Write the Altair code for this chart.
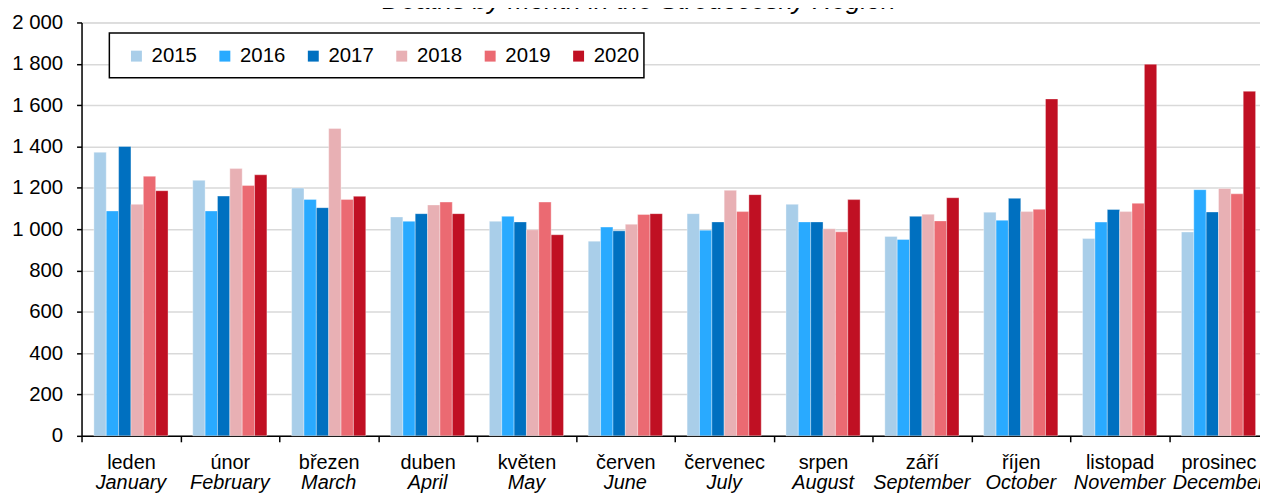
import altair as alt
import pandas as pd

months_cz = ["leden", "únor", "březen", "duben", "květen", "červen",
             "červenec", "srpen", "září", "říjen", "listopad", "prosinec"]
months_en = ["January", "February", "March", "April", "May", "June",
             "July", "August", "September", "October", "November", "December"]
years = ["2015", "2016", "2017", "2018", "2019", "2020"]
colors = ["#A9CEE9", "#29AAFF", "#0070C0", "#E8B0B4", "#EB6A72", "#C01023"]

v2015 = [1372, 1236, 1199, 1059, 1038, 942, 1075, 1120, 965, 1082, 955, 986]
v2016 = [1088, 1088, 1144, 1038, 1062, 1010, 995, 1035, 950, 1043, 1034, 1191]
v2017 = [1400, 1160, 1104, 1075, 1035, 992, 1035, 1035, 1062, 1149, 1095, 1083]
v2018 = [1120, 1293, 1487, 1117, 997, 1024, 1188, 1002, 1072, 1085, 1085, 1197]
v2019 = [1256, 1211, 1144, 1131, 1131, 1071, 1085, 987, 1040, 1096, 1125, 1171]
v2020 = [1186, 1263, 1159, 1075, 973, 1075, 1167, 1143, 1152, 1630, 1798, 1667]

title_text = "Deaths by month in the Středočeský Region"

rows = []
for yr, vals in zip(years, [v2015, v2016, v2017, v2018, v2019, v2020]):
    for m, e, v in zip(months_cz, months_en, vals):
        rows.append({"month": m, "en": e, "year": yr, "deaths": v})
df = pd.DataFrame(rows)
labels_df = pd.DataFrame({"month": months_cz, "en": months_en})
one = pd.DataFrame({"t": [title_text]})

W, H = 1194, 416
FONT = "Liberation Sans"

xenc = alt.X(
    "month:N", sort=months_cz,
    scale=alt.Scale(paddingInner=0, paddingOuter=0),
    axis=alt.Axis(
        title=None, labelAngle=0, tickBand="extent", grid=False,
        domainColor="black", domainWidth=1.5, tickColor="black", tickWidth=1.5,
        tickSize=6, labelFont=FONT, labelFontSize=20, labelColor="black",
        labelBaseline="alphabetic", labelPadding=27, labelLimit=200,
    ),
)

bars = alt.Chart(df).mark_bar(stroke="white", strokeWidth=1, strokeOpacity=0.35).encode(
    x=xenc,
    xOffset=alt.XOffset("year:N", sort=years,
                        scale=alt.Scale(paddingInner=0, paddingOuter=1)),
    y=alt.Y(
        "deaths:Q",
        scale=alt.Scale(domain=[0, 2000], nice=False),
        axis=alt.Axis(
            title=None, values=list(range(0, 2001, 200)),
            labelExpr="replace(format(datum.value, ','), ',', ' ')",
            grid=True, gridColor="#D9D9D9", gridWidth=1.5,
            domainColor="black", domainWidth=1.5, tickColor="black",
            tickWidth=1.5, tickSize=5, labelPadding=14,
            labelFont=FONT, labelFontSize=20.5, labelColor="black",
        ),
    ),
    color=alt.Color(
        "year:N", sort=years,
        scale=alt.Scale(domain=years, range=colors),
        legend=alt.Legend(
            orient="none", legendX=45, legendY=23.5, direction="horizontal",
            title=None, symbolType="square", symbolSize=121,
            symbolStrokeWidth=0, labelFont=FONT, labelFontSize=20.5,
            labelColor="black", labelOffset=5, columnPadding=17, padding=0,
        ),
    ),
)

frame = alt.Chart(one).mark_rect(fill="white", stroke="black", strokeWidth=1.5).encode(
    x=alt.value(28), x2=alt.value(566), y=alt.value(10.7), y2=alt.value(55.7)
)

en_labels = alt.Chart(labels_df).mark_text(
    font=FONT, fontSize=20, fontStyle="italic", baseline="alphabetic",
    align="center", color="black",
).encode(
    x=alt.X("month:N", sort=months_cz),
    y=alt.value(469.7),
    text="en:N",
)

title = alt.Chart(one).mark_text(
    font=FONT, fontSize=26.5, fontStyle="italic", baseline="alphabetic",
    align="center", color="black",
).encode(x=alt.value(561), y=alt.value(-13.5), text="t:N")

chart = alt.layer(frame, bars, en_labels, title).properties(
    width=W, height=H,
    autosize=alt.AutoSizeParams(type="none"),
    padding={"left": 74, "top": 13, "right": -8, "bottom": 60},
).configure_view(stroke="black", strokeWidth=2).configure(background="white")

chart.save("out.html", embed_options={"renderer": "svg", "actions": False})
